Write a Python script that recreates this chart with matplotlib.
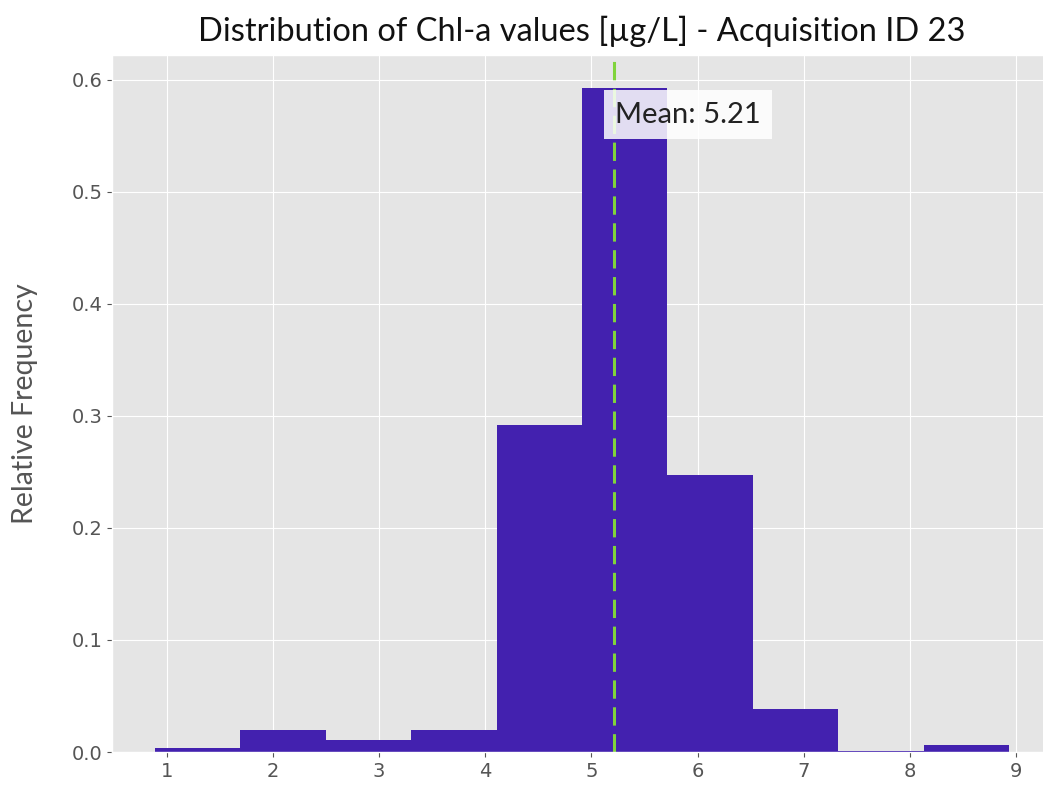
import numpy as np
import matplotlib
matplotlib.use("Agg")
import matplotlib.pyplot as plt

# ====== DATA ======
bin_edges = [0.886, 1.691, 2.496, 3.301, 4.106, 4.911, 5.716, 6.521, 7.326, 8.131, 8.936]
rel_freq = [0.0039, 0.0196, 0.0110, 0.0196, 0.292, 0.5925, 0.2476, 0.038, 0.0013, 0.0063]
mean_value = 5.21
acq_id = 23

# ====== PLOT ======
plt.style.use("ggplot")
fig = plt.figure(figsize=(10.43, 7.98), dpi=100)
ax = fig.add_axes([112 / 1043, 46 / 798, (1052 - 112) / 1043, (752 - 55) / 798])

centers = [(a + b) / 2 for a, b in zip(bin_edges[:-1], bin_edges[1:])]
ax.hist(centers, bins=bin_edges, weights=rel_freq, color="#4321AF", linewidth=0)

ax.axvline(mean_value, color="#80D43C", linewidth=2.2, linestyle=(0, (6, 2.8)))
ax.text(mean_value + 0.01, 0.569, f"Mean: {mean_value:.2f}", ha="left", va="center",
        fontsize=21, family="Lato", color="#222222",
        bbox=dict(facecolor="white", alpha=0.85, edgecolor="none", boxstyle="square,pad=0.38"))

ax.set_title(f"Distribution of Chl-a values [µg/L] - Acquisition ID {acq_id}",
             family="Lato", fontsize=23.5, color="#111111", pad=10)
ax.set_ylabel("Relative Frequency", family="Lato", fontsize=20.5, color="#555555")
ax.yaxis.set_label_coords(-0.079, 0.5)
ax.set_xticks(range(1, 10))
ax.tick_params(labelsize=14, colors="#555555")

fig.savefig("out.png", dpi=100)
